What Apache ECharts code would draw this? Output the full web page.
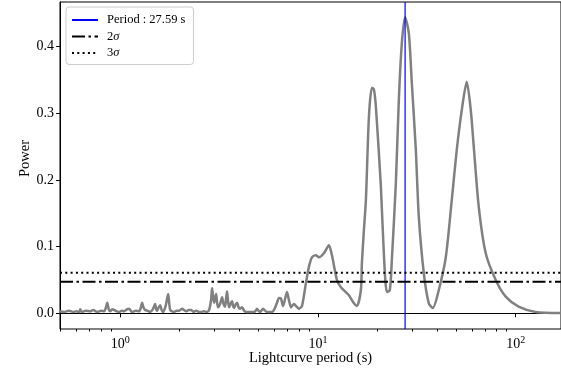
<!DOCTYPE html>
<html><head><meta charset="utf-8">
<script src="https://cdn.jsdelivr.net/npm/echarts@6/dist/echarts.min.js"></script>
<style>html,body{margin:0;padding:0;background:#fff}#c{width:561px;height:377px}</style>
</head><body><div id="c"></div>
<script>
const periods = [0.496,0.52,0.55,0.58,0.60,0.621,0.628,0.64,0.67,0.706,0.73,0.765,0.80,0.830,0.845,0.860,0.875,0.890,0.91,0.933,0.96,0.988,1.02,1.048,1.08,1.110,1.13,1.150,1.20,1.247,1.27,1.291,1.31,1.337,1.37,1.418,1.46,1.502,1.52,1.538,1.56,1.592,1.62,1.649,1.70,1.748,1.77,1.789,1.83,1.874,1.93,1.986,2.057,2.10,2.154,2.22,2.284,2.35,2.42,2.50,2.565,2.65,2.74,2.815,2.88,2.915,2.95,2.984,3.02,3.054,3.09,3.126,3.20,3.275,3.33,3.391,3.43,3.471,3.51,3.553,3.62,3.679,3.72,3.765,3.83,3.898,3.97,4.037,4.08,4.132,4.23,4.329,4.55,4.752,4.84,4.920,5.00,5.095,5.18,5.275,5.40,5.527,5.75,5.926,6.06,6.209,6.36,6.505,6.658,6.80,6.974,7.13,7.306,7.43,7.566,7.80,8.017,8.302,8.70,9.005,9.326,9.77,10.12,10.72,11.36,11.77,12.47,13.07,14.34,15.20,15.74,16.49,16.68,17.08,17.48,18.10,18.74,19.18,19.63,20.81,21.54,22.31,23.10,23.64,24.77,25.65,26.56,27.59,28.81,29.84,31.26,32.36,34.31,36.36,38.09,40.85,44.31,47.52,50.35,53.40,56.56,59.26,61.37,65.03,70.55,79.25,89.03,103.5,126.2,169.5];
const powers = [0.003,0.002,0.004,0.002,0.003,0.002,0.006,0.002,0.004,0.003,0.005,0.002,0.004,0.003,0.008,0.016,0.006,0.003,0.006,0.005,0.003,0.002,0.004,0.003,0.006,0.007,0.004,0.002,0.004,0.003,0.008,0.016,0.009,0.005,0.004,0.002,0.006,0.014,0.006,0.004,0.008,0.012,0.005,0.002,0.012,0.029,0.015,0.005,0.003,0.002,0.004,0.004,0.007,0.005,0.003,0.005,0.005,0.002,0.004,0.002,0.002,0.003,0.002,0.005,0.020,0.038,0.024,0.016,0.023,0.029,0.016,0.009,0.014,0.024,0.014,0.010,0.022,0.033,0.018,0.009,0.015,0.018,0.011,0.008,0.013,0.016,0.009,0.007,0.008,0.009,0.004,0.002,0.002,0.002,0.004,0.007,0.004,0.002,0.004,0.007,0.004,0.002,0.002,0.003,0.008,0.016,0.023,0.022,0.011,0.020,0.032,0.020,0.009,0.012,0.014,0.010,0.007,0.011,0.046,0.070,0.084,0.087,0.084,0.090,0.102,0.087,0.050,0.039,0.027,0.015,0.011,0.035,0.075,0.125,0.170,0.294,0.338,0.336,0.310,0.190,0.090,0.032,0.035,0.080,0.195,0.320,0.405,0.444,0.420,0.345,0.245,0.145,0.060,0.015,0.008,0.035,0.084,0.170,0.245,0.305,0.347,0.305,0.250,0.160,0.090,0.050,0.025,0.010,0.002,0.0005];
const bestPeriod = 27.59;
const sigma2 = 0.0475;
const sigma3 = 0.061;
const xRange = [0.496, 169.5];
const yRange = [-0.0235, 0.4667];
const xMajorTicks = [1, 10, 100];
const xMinorTicks = [0.5,0.6,0.7,0.8,0.9,2,3,4,5,6,7,8,9,20,30,40,50,60,70,80,90];
const yTicks = [0, 0.1, 0.2, 0.3, 0.4];
const legendNames = ['Period : 27.59 s', '2σ', '3σ'];

const FONT = '"Liberation Serif", serif';
const chart = echarts.init(document.getElementById('c'), null, {renderer: 'canvas'});
const curve = periods.map((p, i) => [p, powers[i]]);
const opt = {
  animation: false,
  backgroundColor: '#fff',
  grid: {left: 60, right: -2, top: 2, bottom: 48, show: true, borderColor: '#000', borderWidth: 1, backgroundColor: 'transparent'},
  legend: {
    data: legendNames, orient: 'vertical', left: 66, top: 7,
    padding: [6.5, 8, 5, 5], itemWidth: 26, itemHeight: 10, itemGap: 3.5,
    borderColor: '#cccccc', borderWidth: 1, borderRadius: 3, backgroundColor: '#fff',
    itemStyle: {opacity: 0, borderWidth: 0},
    textStyle: {fontFamily: FONT, fontSize: 12.5, color: '#000', padding: [0, 0, 0, 4], lineHeight: 10,
      rich: {i: {fontFamily: FONT, fontStyle: 'italic', fontSize: 12.5, color: '#000', lineHeight: 10}}},
    formatter: n => n.replace('σ', '{i|σ}')
  },
  xAxis: [
    {type: 'log', min: xRange[0], max: xRange[1], position: 'bottom',
     name: 'Lightcurve period (s)', nameLocation: 'middle', nameGap: 22, nameMoveOverlap: false,
     nameTextStyle: {fontFamily: FONT, fontSize: 14.5, color: '#000'},
     axisLine: {lineStyle: {color: '#000', width: 1}},
     axisTick: {customValues: xMajorTicks, length: 4, lineStyle: {color: '#000'}},
     axisLabel: {customValues: xMajorTicks, margin: 6, color: '#000',
       formatter: v => '{b|10}{s|' + Math.round(Math.log10(v)) + '}',
       rich: {b: {fontFamily: FONT, fontSize: 14, lineHeight: 18, color: '#000'},
              s: {fontFamily: FONT, fontSize: 10, verticalAlign: 'top', lineHeight: 8, color: '#000'}}},
     splitLine: {show: false}},
    {type: 'log', min: xRange[0], max: xRange[1], position: 'bottom',
     axisLine: {show: false},
     axisTick: {customValues: xMinorTicks, length: 2.5, lineStyle: {color: '#000'}},
     axisLabel: {show: false}, splitLine: {show: false}}
  ],
  yAxis: {type: 'value', min: yRange[0], max: yRange[1],
    name: 'Power', nameLocation: 'middle', nameGap: 27, nameMoveOverlap: false,
    nameTextStyle: {fontFamily: FONT, fontSize: 14.5, color: '#000', padding: [0, 0, 0, 14]},
    axisLine: {show: true, lineStyle: {color: '#000', width: 1}},
    axisTick: {show: true, customValues: yTicks, length: 4, lineStyle: {color: '#000'}},
    axisLabel: {customValues: yTicks, margin: 6, color: '#000', fontFamily: FONT, fontSize: 14,
      formatter: v => v.toFixed(1)},
    splitLine: {show: false}},
  series: [
    {name: 'curve', type: 'line', data: curve, symbol: 'none', smooth: 0.25, z: 2,
     lineStyle: {color: '#808080', width: 2.5}, itemStyle: {color: '#808080'}},
    {name: legendNames[0], type: 'line', data: [[bestPeriod, yRange[0]], [bestPeriod, yRange[1]]],
     symbol: 'none', z: 3, lineStyle: {color: '#0000ff', width: 1.2}, itemStyle: {color: '#0000ff'}},
    {name: legendNames[1], type: 'line', data: [[xRange[0], sigma2], [xRange[1], sigma2]],
     symbol: 'none', z: 4, lineStyle: {color: '#000', width: 2, type: [13, 3.5, 2.5, 3.5]}, itemStyle: {color: '#000'}},
    {name: legendNames[2], type: 'line', data: [[xRange[0], sigma3], [xRange[1], sigma3]],
     symbol: 'none', z: 4, lineStyle: {color: '#000', width: 2, type: [2, 3.3]}, itemStyle: {color: '#000'}}
  ]
};
chart.setOption(opt);
</script></body></html>
